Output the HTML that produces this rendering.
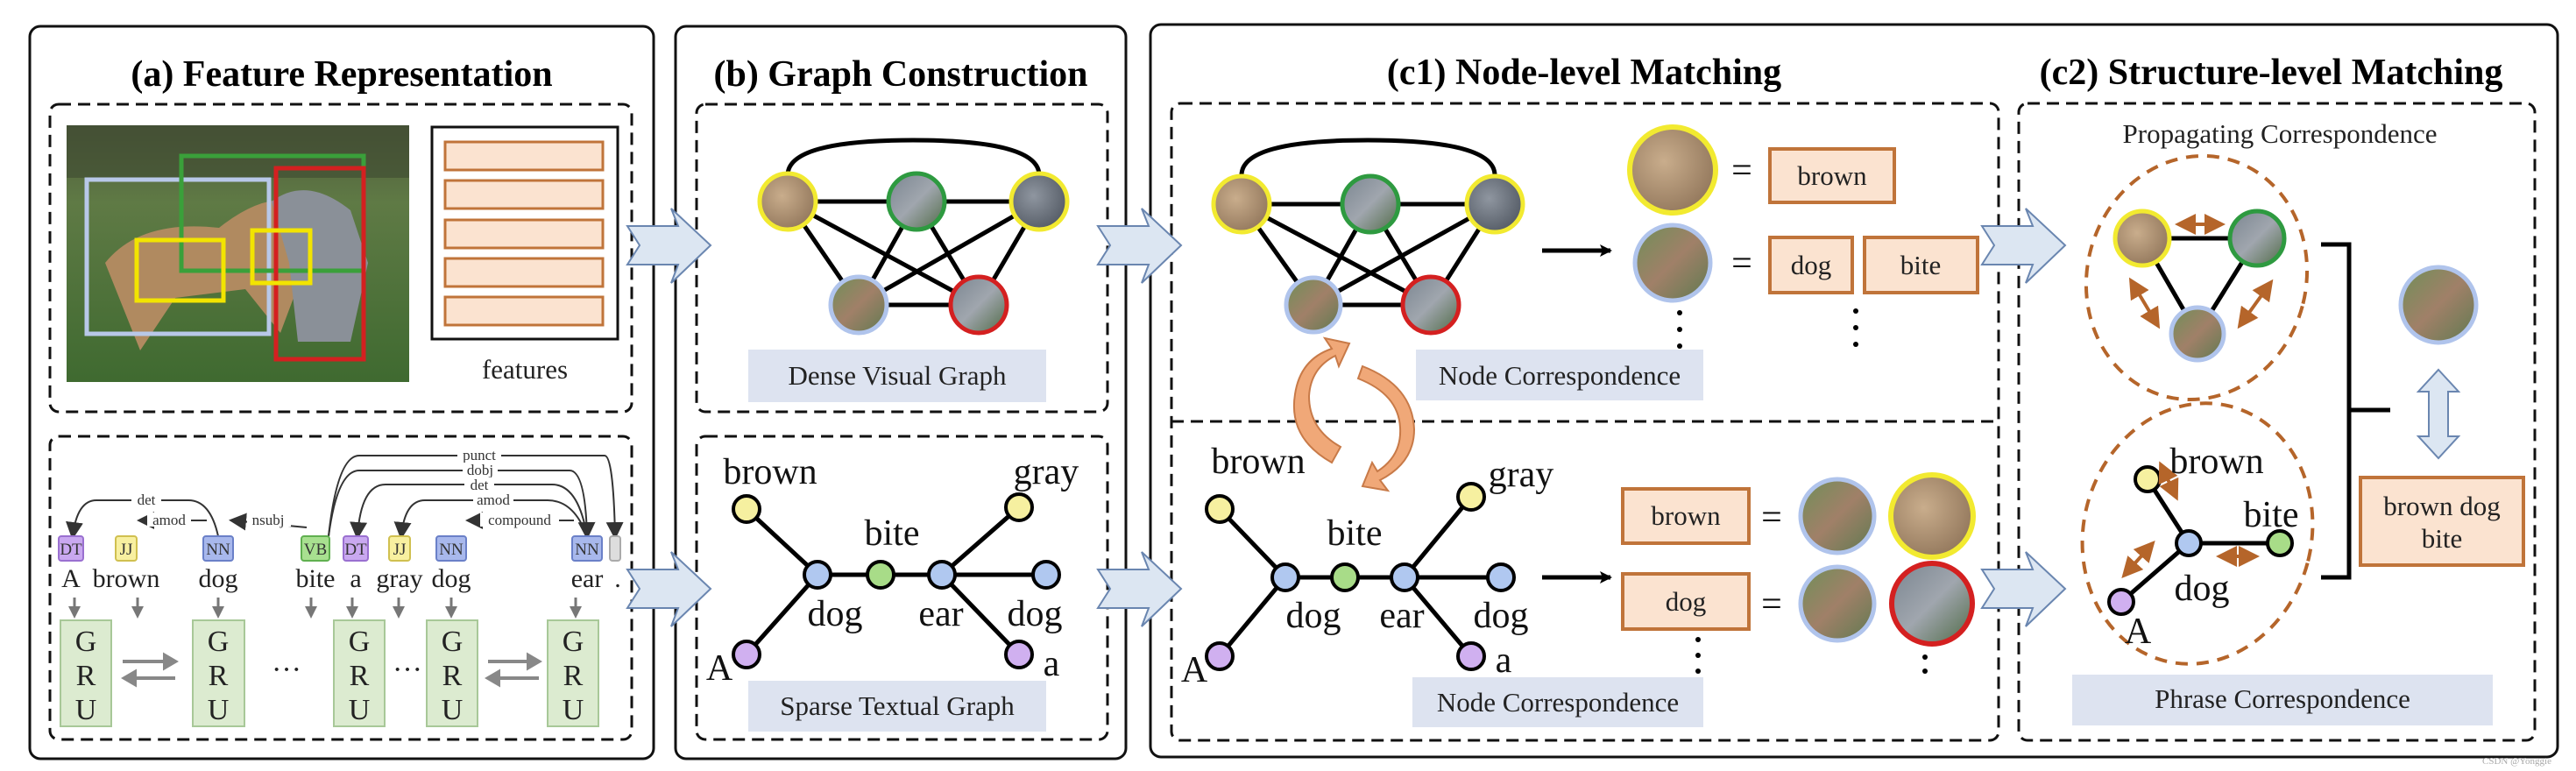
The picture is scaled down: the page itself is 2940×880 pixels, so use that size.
<!DOCTYPE html>
<html><head><meta charset="utf-8"><style>
html,body{margin:0;padding:0;background:#fff;}
svg{display:block;}
text{font-family:"Liberation Serif",serif;}
.t{font-weight:bold;font-size:42px;text-anchor:middle;}
.lbl{font-size:42px;text-anchor:middle;fill:#111;}
.bx{font-size:31px;text-anchor:middle;fill:#222;}
.dep{font-family:"Liberation Sans",sans-serif;font-size:17px;text-anchor:middle;fill:#333;}
.tag{font-family:"Liberation Sans",sans-serif;font-size:19px;text-anchor:middle;}
.wd{font-family:"Liberation Sans",sans-serif;font-size:30px;text-anchor:middle;fill:#222;}
.gru{font-size:34px;text-anchor:middle;fill:#222;}
</style></head><body>
<svg width="2940" height="880" viewBox="0 0 2940 880" xmlns="http://www.w3.org/2000/svg">
<defs>
<radialGradient id="tan" cx="40%" cy="40%" r="70%"><stop offset="0" stop-color="#c9ad8c"/><stop offset="1" stop-color="#8e7358"/></radialGradient>
<radialGradient id="gry" cx="40%" cy="40%" r="70%"><stop offset="0" stop-color="#8f96a0"/><stop offset="1" stop-color="#4f5660"/></radialGradient>
<linearGradient id="dog" x1="0" y1="0" x2="1" y2="1"><stop offset="0" stop-color="#6f8f58"/><stop offset=".5" stop-color="#a08068"/><stop offset="1" stop-color="#5f7a50"/></linearGradient>
<linearGradient id="dog2" x1="0" y1="0" x2="1" y2="1"><stop offset="0" stop-color="#7a8590"/><stop offset=".5" stop-color="#a0a6ae"/><stop offset="1" stop-color="#4f6a45"/></linearGradient>
<linearGradient id="photo" x1="0" y1="0" x2="0" y2="1"><stop offset="0" stop-color="#4f5a3c"/><stop offset=".3" stop-color="#5f7a45"/><stop offset="1" stop-color="#3f6a30"/></linearGradient>
<marker id="ka" markerWidth="10" markerHeight="10" refX="8" refY="5" orient="auto"><path d="M0,0 L10,5 L0,10Z" fill="#333"/></marker>
<marker id="oa" markerWidth="6" markerHeight="6" refX="5" refY="3" orient="auto"><path d="M0,0 L6,3 L0,6Z" fill="#b5652a"/></marker>
<marker id="oas" markerWidth="6" markerHeight="6" refX="1" refY="3" orient="auto"><path d="M6,0 L0,3 L6,6Z" fill="#b5652a"/></marker>
<marker id="bk" markerWidth="14" markerHeight="14" refX="12" refY="7" orient="auto" markerUnits="userSpaceOnUse"><path d="M0,0 L14,7 L0,14 L3,7Z" fill="#000"/></marker>
</defs>

<rect x="34" y="30" width="712" height="836" rx="12" fill="none" stroke="#111" stroke-width="3"/>
<rect x="771" y="30" width="514" height="836" rx="12" fill="none" stroke="#111" stroke-width="3"/>
<rect x="1313" y="28" width="1606" height="836" rx="12" fill="none" stroke="#111" stroke-width="3"/>

<text class="t" x="390" y="98">(a) Feature Representation</text>
<text class="t" x="1028" y="98">(b) Graph Construction</text>
<text class="t" x="1808" y="96">(c1) Node-level Matching</text>
<text class="t" x="2592" y="96">(c2) Structure-level Matching</text>

<g fill="none" stroke="#111" stroke-width="3" stroke-dasharray="14,8">
<rect x="57" y="119" width="664" height="351" rx="10"/>
<rect x="57" y="498" width="664" height="346" rx="10"/>
<rect x="795" y="119" width="469" height="351" rx="10"/>
<rect x="795" y="498" width="469" height="346" rx="10"/>
<rect x="1337" y="118" width="944" height="727" rx="10"/>
<line x1="1337" y1="481" x2="2281" y2="481"/>
<rect x="2304" y="118" width="589" height="727" rx="10"/>
</g>

<rect x="76" y="143" width="391" height="293" fill="url(#photo)"/>
<rect x="76" y="143" width="391" height="60" fill="#3e4a30" opacity=".6"/>
<path d="M120,300 Q160,250 250,260 Q300,220 340,230 L350,300 L320,380 L280,330 L200,340 L160,400 L140,350Z" fill="#b08a60"/>
<path d="M310,230 Q350,200 400,240 L420,300 L400,390 L340,390 L330,300Z" fill="#8a9098"/>
<g fill="none" stroke-width="5">
<rect x="99" y="205" width="208" height="176" stroke="#b8c8e8"/>
<rect x="207" y="178" width="208" height="131" stroke="#3aa03a"/>
<rect x="315" y="192" width="100" height="218" stroke="#d42020"/>
<rect x="156" y="274" width="99" height="69" stroke="#f2e400"/>
<rect x="288" y="263" width="66" height="60" stroke="#f2e400"/>
</g>
<rect x="493" y="145" width="212" height="242" fill="#fff" stroke="#111" stroke-width="3"/>
<g fill="#fbe3d0" stroke="#c0743a" stroke-width="3">
<rect x="508" y="162" width="180" height="32"/><rect x="508" y="206" width="180" height="32"/>
<rect x="508" y="251" width="180" height="32"/><rect x="508" y="295" width="180" height="32"/>
<rect x="508" y="339" width="180" height="32"/>
</g>
<text class="bx" x="599" y="432">features</text>

<g fill="none" stroke="#333" stroke-width="2">
<path d="M375,612 Q385,520 410,520 L690,520 Q700,520 702,612" marker-end="url(#ka)"/>
<path d="M375,612 Q385,537 410,537 L650,537 Q668,537 670,612" marker-end="url(#ka)"/>
<path d="M670,612 Q660,553 630,553 L440,553 Q412,553 408,612" marker-end="url(#ka)"/>
<path d="M670,612 Q655,571 625,571 L485,571 Q462,571 458,612" marker-end="url(#ka)"/>
<path d="M249,612 Q240,571 215,571 L110,571 Q88,571 83,612" marker-end="url(#ka)"/>
<path d="M655,594 L535,594" marker-end="url(#ka)"/>
<path d="M236,594 L160,594" marker-end="url(#ka)"/>
<path d="M350,602 L265,594" marker-end="url(#ka)"/>
</g>
<g class="dep">
<rect x="522" y="511" width="50" height="16" fill="#fff"/><text x="547" y="525">punct</text>
<rect x="528" y="528" width="40" height="16" fill="#fff"/><text x="548" y="542">dobj</text>
<rect x="530" y="545" width="34" height="16" fill="#fff"/><text x="547" y="559">det</text>
<rect x="540" y="562" width="46" height="16" fill="#fff"/><text x="563" y="576">amod</text>
<rect x="150" y="562" width="34" height="16" fill="#fff"/><text x="167" y="576">det</text>
<rect x="168" y="585" width="50" height="16" fill="#fff"/><text x="193" y="599">amod</text>
<rect x="282" y="585" width="50" height="16" fill="#fff"/><text x="306" y="599">nsubj</text>
<rect x="548" y="585" width="90" height="16" fill="#fff"/><text x="593" y="599">compound</text>
</g>
<g stroke-width="2">
<rect x="67" y="612" width="28" height="28" rx="3" fill="#c9a8f0" stroke="#9a70d0"/>
<rect x="132" y="612" width="24" height="28" rx="3" fill="#f8f0a0" stroke="#d0c050"/>
<rect x="232" y="612" width="34" height="28" rx="3" fill="#a8b8ec" stroke="#6a80c8"/>
<rect x="344" y="612" width="32" height="28" rx="3" fill="#a8e090" stroke="#60b050"/>
<rect x="392" y="612" width="28" height="28" rx="3" fill="#c9a8f0" stroke="#9a70d0"/>
<rect x="444" y="612" width="24" height="28" rx="3" fill="#f8f0a0" stroke="#d0c050"/>
<rect x="498" y="612" width="34" height="28" rx="3" fill="#a8b8ec" stroke="#6a80c8"/>
<rect x="653" y="612" width="34" height="28" rx="3" fill="#a8b8ec" stroke="#6a80c8"/>
<rect x="696" y="612" width="12" height="28" rx="3" fill="#ddd" stroke="#aaa"/>
</g>
<g class="tag" fill="#333">
<text x="81" y="633">DT</text><text x="144" y="633">JJ</text><text x="249" y="633">NN</text><text x="360" y="633">VB</text>
<text x="406" y="633">DT</text><text x="456" y="633">JJ</text><text x="515" y="633">NN</text><text x="670" y="633">NN</text>
</g>
<g class="wd">
<text x="81" y="670">A</text><text x="144" y="670">brown</text><text x="249" y="670">dog</text><text x="360" y="670">bite</text>
<text x="406" y="670">a</text><text x="456" y="670">gray</text><text x="515" y="670">dog</text><text x="670" y="670">ear</text><text x="705" y="670">.</text>
</g>
<g stroke="#777" stroke-width="3">
<line x1="85" y1="682" x2="85" y2="694"/><line x1="157" y1="682" x2="157" y2="694"/><line x1="249" y1="682" x2="249" y2="694"/>
<line x1="355" y1="682" x2="355" y2="694"/><line x1="402" y1="682" x2="402" y2="694"/><line x1="455" y1="682" x2="455" y2="694"/>
<line x1="515" y1="682" x2="515" y2="694"/><line x1="657" y1="682" x2="657" y2="694"/>
</g>
<g fill="#777">
<path d="M78,692 L92,692 L85,706Z"/><path d="M150,692 L164,692 L157,706Z"/><path d="M242,692 L256,692 L249,706Z"/>
<path d="M348,692 L362,692 L355,706Z"/><path d="M395,692 L409,692 L402,706Z"/><path d="M448,692 L462,692 L455,706Z"/>
<path d="M508,692 L522,692 L515,706Z"/><path d="M650,692 L664,692 L657,706Z"/>
</g>
<g fill="#dcebd0" stroke="#a8c898" stroke-width="2">
<rect x="69" y="708" width="58" height="121"/><rect x="220" y="708" width="59" height="121"/>
<rect x="381" y="708" width="58" height="121"/><rect x="487" y="708" width="58" height="121"/>
<rect x="625" y="708" width="58" height="121"/>
</g>
<g class="gru">
<text x="98" y="743">G</text><text x="98" y="782">R</text><text x="98" y="821">U</text>
<text x="249" y="743">G</text><text x="249" y="782">R</text><text x="249" y="821">U</text>
<text x="410" y="743">G</text><text x="410" y="782">R</text><text x="410" y="821">U</text>
<text x="516" y="743">G</text><text x="516" y="782">R</text><text x="516" y="821">U</text>
<text x="654" y="743">G</text><text x="654" y="782">R</text><text x="654" y="821">U</text>
<text x="327" y="775">···</text><text x="465" y="775">···</text>
</g>
<g stroke="#888" stroke-width="4" fill="#888">
<line x1="140" y1="755" x2="192" y2="755"/><path d="M200,755 L188,748 L188,762Z"/>
<line x1="150" y1="774" x2="200" y2="774"/><path d="M142,774 L154,767 L154,781Z"/>
<line x1="557" y1="755" x2="607" y2="755"/><path d="M615,755 L603,748 L603,762Z"/>
<line x1="565" y1="774" x2="615" y2="774"/><path d="M557,774 L569,767 L569,781Z"/>
</g>

<g fill="#dce6f2" stroke="#6a86b0" stroke-width="2">
<path d="M0,20 L58,20 L50,0 L95,42 L50,85 L58,64 L0,64 L14,42Z" transform="translate(716,238)"/>
<path d="M0,20 L58,20 L50,0 L95,42 L50,85 L58,64 L0,64 L14,42Z" transform="translate(716,630)"/>
<path d="M0,20 L58,20 L50,0 L95,42 L50,85 L58,64 L0,64 L14,42Z" transform="translate(1253,238)"/>
<path d="M0,20 L58,20 L50,0 L95,42 L50,85 L58,64 L0,64 L14,42Z" transform="translate(1253,630)"/>
<path d="M0,20 L58,20 L50,0 L95,42 L50,85 L58,64 L0,64 L14,42Z" transform="translate(2262,238)"/>
<path d="M0,20 L58,20 L50,0 L95,42 L50,85 L58,64 L0,64 L14,42Z" transform="translate(2262,630)"/>
</g>

<g stroke="#000" stroke-width="5" fill="none">
<path d="M899,200 Q899,160 1042,160 Q1186,160 1186,200"/>
<line x1="899" y1="230" x2="1186" y2="230"/>
<line x1="899" y1="230" x2="980" y2="348"/><line x1="899" y1="230" x2="1117" y2="348"/>
<line x1="1046" y1="230" x2="980" y2="348"/><line x1="1046" y1="230" x2="1117" y2="348"/>
<line x1="1186" y1="230" x2="980" y2="348"/><line x1="1186" y1="230" x2="1117" y2="348"/>
<line x1="980" y1="348" x2="1117" y2="348"/>
</g>
<g stroke-width="5">
<circle cx="899" cy="230" r="32" fill="url(#tan)" stroke="#f2ea30"/>
<circle cx="1046" cy="230" r="32" fill="url(#dog2)" stroke="#2e9a40"/>
<circle cx="1186" cy="230" r="32" fill="url(#gry)" stroke="#f2ea30"/>
<circle cx="980" cy="348" r="32" fill="url(#dog)" stroke="#b0c4ec"/>
<circle cx="1117" cy="348" r="32" fill="url(#dog2)" stroke="#d42020"/>
</g>
<rect x="854" y="399" width="340" height="60" fill="#dde3f0"/>
<text class="bx" x="1024" y="439">Dense Visual Graph</text>

<g stroke="#000" stroke-width="5">
<line x1="852" y1="581" x2="933" y2="656"/><line x1="852" y1="747" x2="933" y2="656"/>
<line x1="933" y1="656" x2="1194" y2="656"/>
<line x1="1163" y1="579" x2="1075" y2="656"/><line x1="1163" y1="747" x2="1075" y2="656"/>
</g>
<g stroke="#000" stroke-width="4">
<circle cx="852" cy="581" r="15" fill="#f6f0a0"/><circle cx="933" cy="656" r="15" fill="#b0c8f0"/>
<circle cx="1005" cy="656" r="15" fill="#a8dc88"/><circle cx="1075" cy="656" r="15" fill="#b0c8f0"/>
<circle cx="1194" cy="656" r="15" fill="#b0c8f0"/><circle cx="1163" cy="579" r="15" fill="#f6f0a0"/>
<circle cx="852" cy="747" r="15" fill="#d0b0f0"/><circle cx="1163" cy="747" r="15" fill="#d0b0f0"/>
</g>
<g class="lbl">
<text x="879" y="552">brown</text><text x="1194" y="552">gray</text><text x="1018" y="622">bite</text>
<text x="953" y="714">dog</text><text x="1074" y="714">ear</text><text x="1181" y="714">dog</text>
<text x="821" y="776">A</text><text x="1200" y="771">a</text>
</g>
<rect x="854" y="777" width="340" height="58" fill="#dde3f0"/>
<text class="bx" x="1024" y="816">Sparse Textual Graph</text>

<g stroke="#000" stroke-width="5" fill="none">
<path d="M1417,200 Q1417,160 1561,160 Q1706,160 1706,200"/>
<line x1="1417" y1="233" x2="1706" y2="233"/>
<line x1="1417" y1="233" x2="1499" y2="348"/><line x1="1417" y1="233" x2="1633" y2="348"/>
<line x1="1564" y1="233" x2="1499" y2="348"/><line x1="1564" y1="233" x2="1633" y2="348"/>
<line x1="1706" y1="233" x2="1499" y2="348"/><line x1="1706" y1="233" x2="1633" y2="348"/>
<line x1="1499" y1="348" x2="1633" y2="348"/>
</g>
<g stroke-width="5">
<circle cx="1417" cy="233" r="32" fill="url(#tan)" stroke="#f2ea30"/>
<circle cx="1564" cy="233" r="32" fill="url(#dog2)" stroke="#2e9a40"/>
<circle cx="1706" cy="233" r="32" fill="url(#gry)" stroke="#f2ea30"/>
<circle cx="1499" cy="348" r="31" fill="url(#dog)" stroke="#b0c4ec"/>
<circle cx="1633" cy="348" r="32" fill="url(#dog2)" stroke="#d42020"/>
</g>
<line x1="1760" y1="286" x2="1838" y2="286" stroke="#000" stroke-width="5" marker-end="url(#bk)"/>
<circle cx="1909" cy="194" r="49" fill="url(#tan)" stroke="#f2ea30" stroke-width="6"/>
<circle cx="1909" cy="300" r="43" fill="url(#dog)" stroke="#b0c4ec" stroke-width="5"/>
<g class="lbl" font-size="46"><text x="1988" y="208">=</text><text x="1988" y="314">=</text><text x="2022" y="703">=</text><text x="2022" y="604">=</text></g>
<g fill="#fbe3d0" stroke="#c0743a" stroke-width="4">
<rect x="2020" y="170" width="142" height="61"/><rect x="2020" y="271" width="94" height="63"/><rect x="2128" y="271" width="129" height="63"/>
<rect x="1852" y="558" width="144" height="62"/><rect x="1852" y="655" width="144" height="63"/>
<rect x="2694" y="545" width="186" height="100"/>
</g>
<g class="bx"><text x="2091" y="211">brown</text><text x="2067" y="313">dog</text><text x="2192" y="313">bite</text>
<text x="1924" y="599">brown</text><text x="1924" y="697">dog</text>
<text x="2787" y="588">brown dog</text><text x="2787" y="625">bite</text></g>
<g fill="#000"><circle cx="1917" cy="357" r="3"/><circle cx="1917" cy="376" r="3"/><circle cx="1917" cy="395" r="3"/>
<circle cx="2118" cy="355" r="3"/><circle cx="2118" cy="374" r="3"/><circle cx="2118" cy="393" r="3"/>
<circle cx="1938" cy="730" r="3"/><circle cx="1938" cy="748" r="3"/><circle cx="1938" cy="766" r="3"/>
<circle cx="2197" cy="750" r="3"/><circle cx="2197" cy="766" r="3"/></g>
<rect x="1616" y="399" width="328" height="58" fill="#dde3f0"/>
<text class="bx" x="1780" y="439">Node Correspondence</text>
<rect x="1612" y="773" width="332" height="57" fill="#dde3f0"/>
<text class="bx" x="1778" y="812">Node Correspondence</text>

<path d="M1520,528 Q1470,500 1478,450 Q1484,410 1520,398 L1512,386 L1540,392 L1528,418 L1524,406 Q1496,420 1494,452 Q1494,490 1530,510Z" fill="#f0a878" stroke="#c87a48" stroke-width="2"/>
<path d="M1555,418 Q1612,440 1614,490 Q1614,528 1575,548 L1584,560 L1555,555 L1566,528 L1572,538 Q1600,520 1598,488 Q1596,450 1550,432Z" fill="#f0a878" stroke="#c87a48" stroke-width="2"/>

<g stroke="#000" stroke-width="5">
<line x1="1392" y1="581" x2="1467" y2="659"/><line x1="1392" y1="749" x2="1467" y2="659"/>
<line x1="1467" y1="659" x2="1713" y2="659"/>
<line x1="1679" y1="567" x2="1603" y2="659"/><line x1="1679" y1="749" x2="1603" y2="659"/>
</g>
<g stroke="#000" stroke-width="4">
<circle cx="1392" cy="581" r="15" fill="#f6f0a0"/><circle cx="1467" cy="659" r="15" fill="#b0c8f0"/>
<circle cx="1535" cy="659" r="15" fill="#a8dc88"/><circle cx="1603" cy="659" r="15" fill="#b0c8f0"/>
<circle cx="1713" cy="659" r="15" fill="#b0c8f0"/><circle cx="1679" cy="567" r="15" fill="#f6f0a0"/>
<circle cx="1392" cy="749" r="15" fill="#d0b0f0"/><circle cx="1679" cy="749" r="15" fill="#d0b0f0"/>
</g>
<g class="lbl">
<text x="1436" y="540">brown</text><text x="1736" y="555">gray</text><text x="1546" y="622">bite</text>
<text x="1499" y="716">dog</text><text x="1600" y="716">ear</text><text x="1713" y="716">dog</text>
<text x="1363" y="778">A</text><text x="1716" y="767">a</text>
</g>
<line x1="1760" y1="659" x2="1838" y2="659" stroke="#000" stroke-width="5" marker-end="url(#bk)"/>
<circle cx="2097" cy="589" r="42" fill="url(#dog)" stroke="#b0c4ec" stroke-width="5"/>
<circle cx="2205" cy="589" r="47" fill="url(#tan)" stroke="#f2ea30" stroke-width="6"/>
<circle cx="2097" cy="689" r="42" fill="url(#dog)" stroke="#b0c4ec" stroke-width="5"/>
<circle cx="2205" cy="689" r="46" fill="url(#dog2)" stroke="#d42020" stroke-width="6"/>

<text class="bx" x="2602" y="163" font-size="36">Propagating Correspondence</text>
<g fill="none" stroke="#b5652a" stroke-width="4" stroke-dasharray="14,10">
<ellipse cx="2507" cy="317" rx="125" ry="140" transform="rotate(15 2507 317)"/>
<ellipse cx="2508" cy="609" rx="130" ry="150" transform="rotate(15 2508 609)"/>
</g>
<g stroke="#000" stroke-width="5">
<line x1="2445" y1="272" x2="2576" y2="272"/><line x1="2445" y1="272" x2="2508" y2="381"/><line x1="2576" y1="272" x2="2508" y2="381"/>
<line x1="2451" y1="547" x2="2498" y2="620"/><line x1="2498" y1="620" x2="2602" y2="620"/><line x1="2421" y1="687" x2="2498" y2="620"/>
</g>
<g stroke-width="5">
<circle cx="2445" cy="272" r="31" fill="url(#tan)" stroke="#f2ea30"/>
<circle cx="2576" cy="272" r="31" fill="url(#dog2)" stroke="#2e9a40"/>
<circle cx="2508" cy="381" r="30" fill="url(#dog)" stroke="#b0c4ec"/>
<circle cx="2783" cy="348" r="43" fill="url(#dog)" stroke="#b0c4ec"/>
</g>
<g stroke="#000" stroke-width="4">
<circle cx="2451" cy="547" r="14" fill="#f6f0a0"/><circle cx="2498" cy="620" r="14" fill="#b0c8f0"/>
<circle cx="2602" cy="620" r="14" fill="#a8dc88"/><circle cx="2421" cy="687" r="14" fill="#d0b0f0"/>
</g>
<g stroke="#b5652a" stroke-width="4" marker-end="url(#oa)" marker-start="url(#oas)">
<line x1="2486" y1="256" x2="2536" y2="256"/>
<line x1="2432" y1="320" x2="2463" y2="372"/>
<line x1="2592" y1="322" x2="2556" y2="372"/>
<line x1="2466" y1="530" x2="2484" y2="568"/>
<line x1="2533" y1="635" x2="2575" y2="635"/>
<line x1="2424" y1="657" x2="2457" y2="620"/>
</g>
<g class="lbl">
<text x="2530" y="540">brown</text><text x="2592" y="601">bite</text><text x="2513" y="685">dog</text><text x="2440" y="734">A</text>
</g>
<path d="M2649,279 L2681,279 L2681,659 L2649,659 M2681,468 L2728,468" fill="none" stroke="#000" stroke-width="5"/>
<path d="M2783,422 L2806,447 L2794,447 L2794,498 L2806,498 L2783,523 L2760,498 L2772,498 L2772,447 L2760,447Z" fill="#dce6f2" stroke="#6a86b0" stroke-width="2"/>
<rect x="2365" y="770" width="480" height="58" fill="#dde3f0"/>
<text class="bx" x="2605" y="808">Phrase Correspondence</text>
<text x="2912" y="872" font-family="Liberation Sans,sans-serif" font-size="11" fill="#aaa" text-anchor="end">CSDN @Yonggie</text>
</svg>
</body></html>
